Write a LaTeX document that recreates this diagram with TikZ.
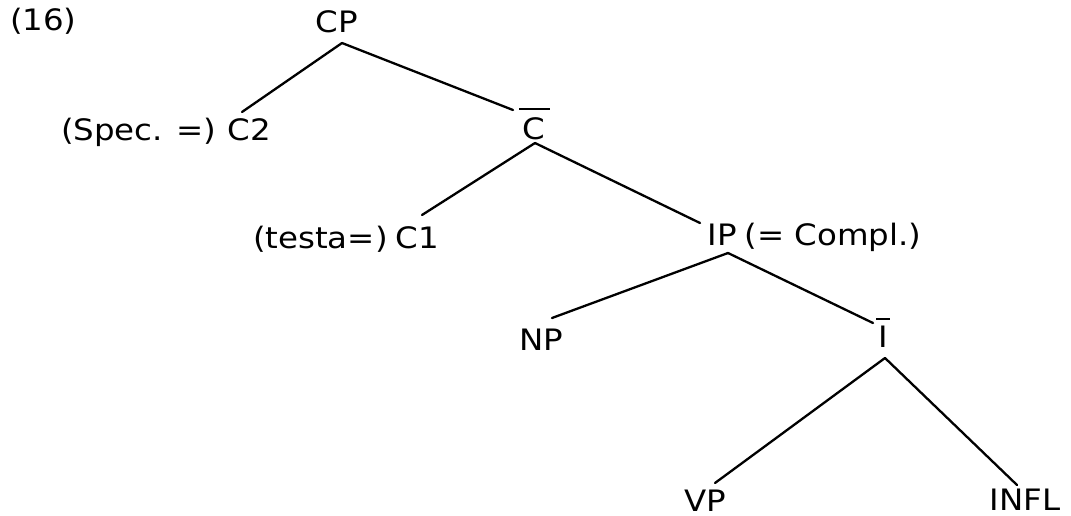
\documentclass[tikz,border=0pt]{standalone}
\usepackage{fontspec}
\setmainfont{DejaVu Sans}[FakeStretch=1.1]
\begin{document}
\begin{tikzpicture}[x=1pt,y=-1pt,
  lab/.style={inner sep=0pt,outer sep=0pt,font=\fontsize{29.5}{31}\selectfont},
  edge/.style={line width=2.3pt,line cap=round},
  barline/.style={line width=2.3pt}]
\useasboundingbox (0,0) rectangle (1071,516);
% labels
\node[lab,anchor=base west] (n16) at (10,31) {(16)};
\node[lab,anchor=base] (CP) at (337,33) {CP};
\node[lab,anchor=base] (C2) at (249,141) {C2};
\node[lab,anchor=base west] (spec) at (61,141) {(Spec. =)};
\node[lab,anchor=base] (Cb) at (534,140) {C};
\node[lab,anchor=base] (C1) at (417,248) {C1};
\node[lab,anchor=base west] (testa) at (253,248) {(testa=)};
\node[lab,anchor=base] (IP) at (722,245) {IP};
\node[lab,anchor=base west] (compl) at ([xshift=8]IP.base east) {(= Compl.)};
\node[lab,anchor=base] (NP) at (541,350) {NP};
\node[lab,anchor=base] (Ib) at (883,347) {I};
\node[lab,anchor=base] (VP) at (705,511) {VP};
\node[lab,anchor=base] (INFL) at (1025,510) {INFL};
% bars
\draw[barline] ([shift={(-15,-31)}]Cb.base) -- ([shift={(16,-31)}]Cb.base);
\draw[barline] ([shift={(-7,-28)}]Ib.base) -- ([shift={(7,-28)}]Ib.base);
% edges
\draw[edge] ([shift={(5,10)}]CP.base) -- ([shift={(-7,-29)}]C2.base);
\draw[edge] ([shift={(5,10)}]CP.base) -- ([shift={(-21,-30)}]Cb.base);
\draw[edge] ([shift={(1,3)}]Cb.base) -- ([shift={(5,-33)}]C1.base);
\draw[edge] ([shift={(1,3)}]Cb.base) -- ([shift={(-22,-22)}]IP.base);
\draw[edge] ([shift={(6,8)}]IP.base) -- ([shift={(11,-32)}]NP.base);
\draw[edge] ([shift={(6,8)}]IP.base) -- ([shift={(-10,-24)}]Ib.base);
\draw[edge] ([shift={(2,11)}]Ib.base) -- ([shift={(10,-28)}]VP.base);
\draw[edge] ([shift={(2,11)}]Ib.base) -- ([shift={(-8,-25)}]INFL.base);
\end{tikzpicture}
\end{document}
